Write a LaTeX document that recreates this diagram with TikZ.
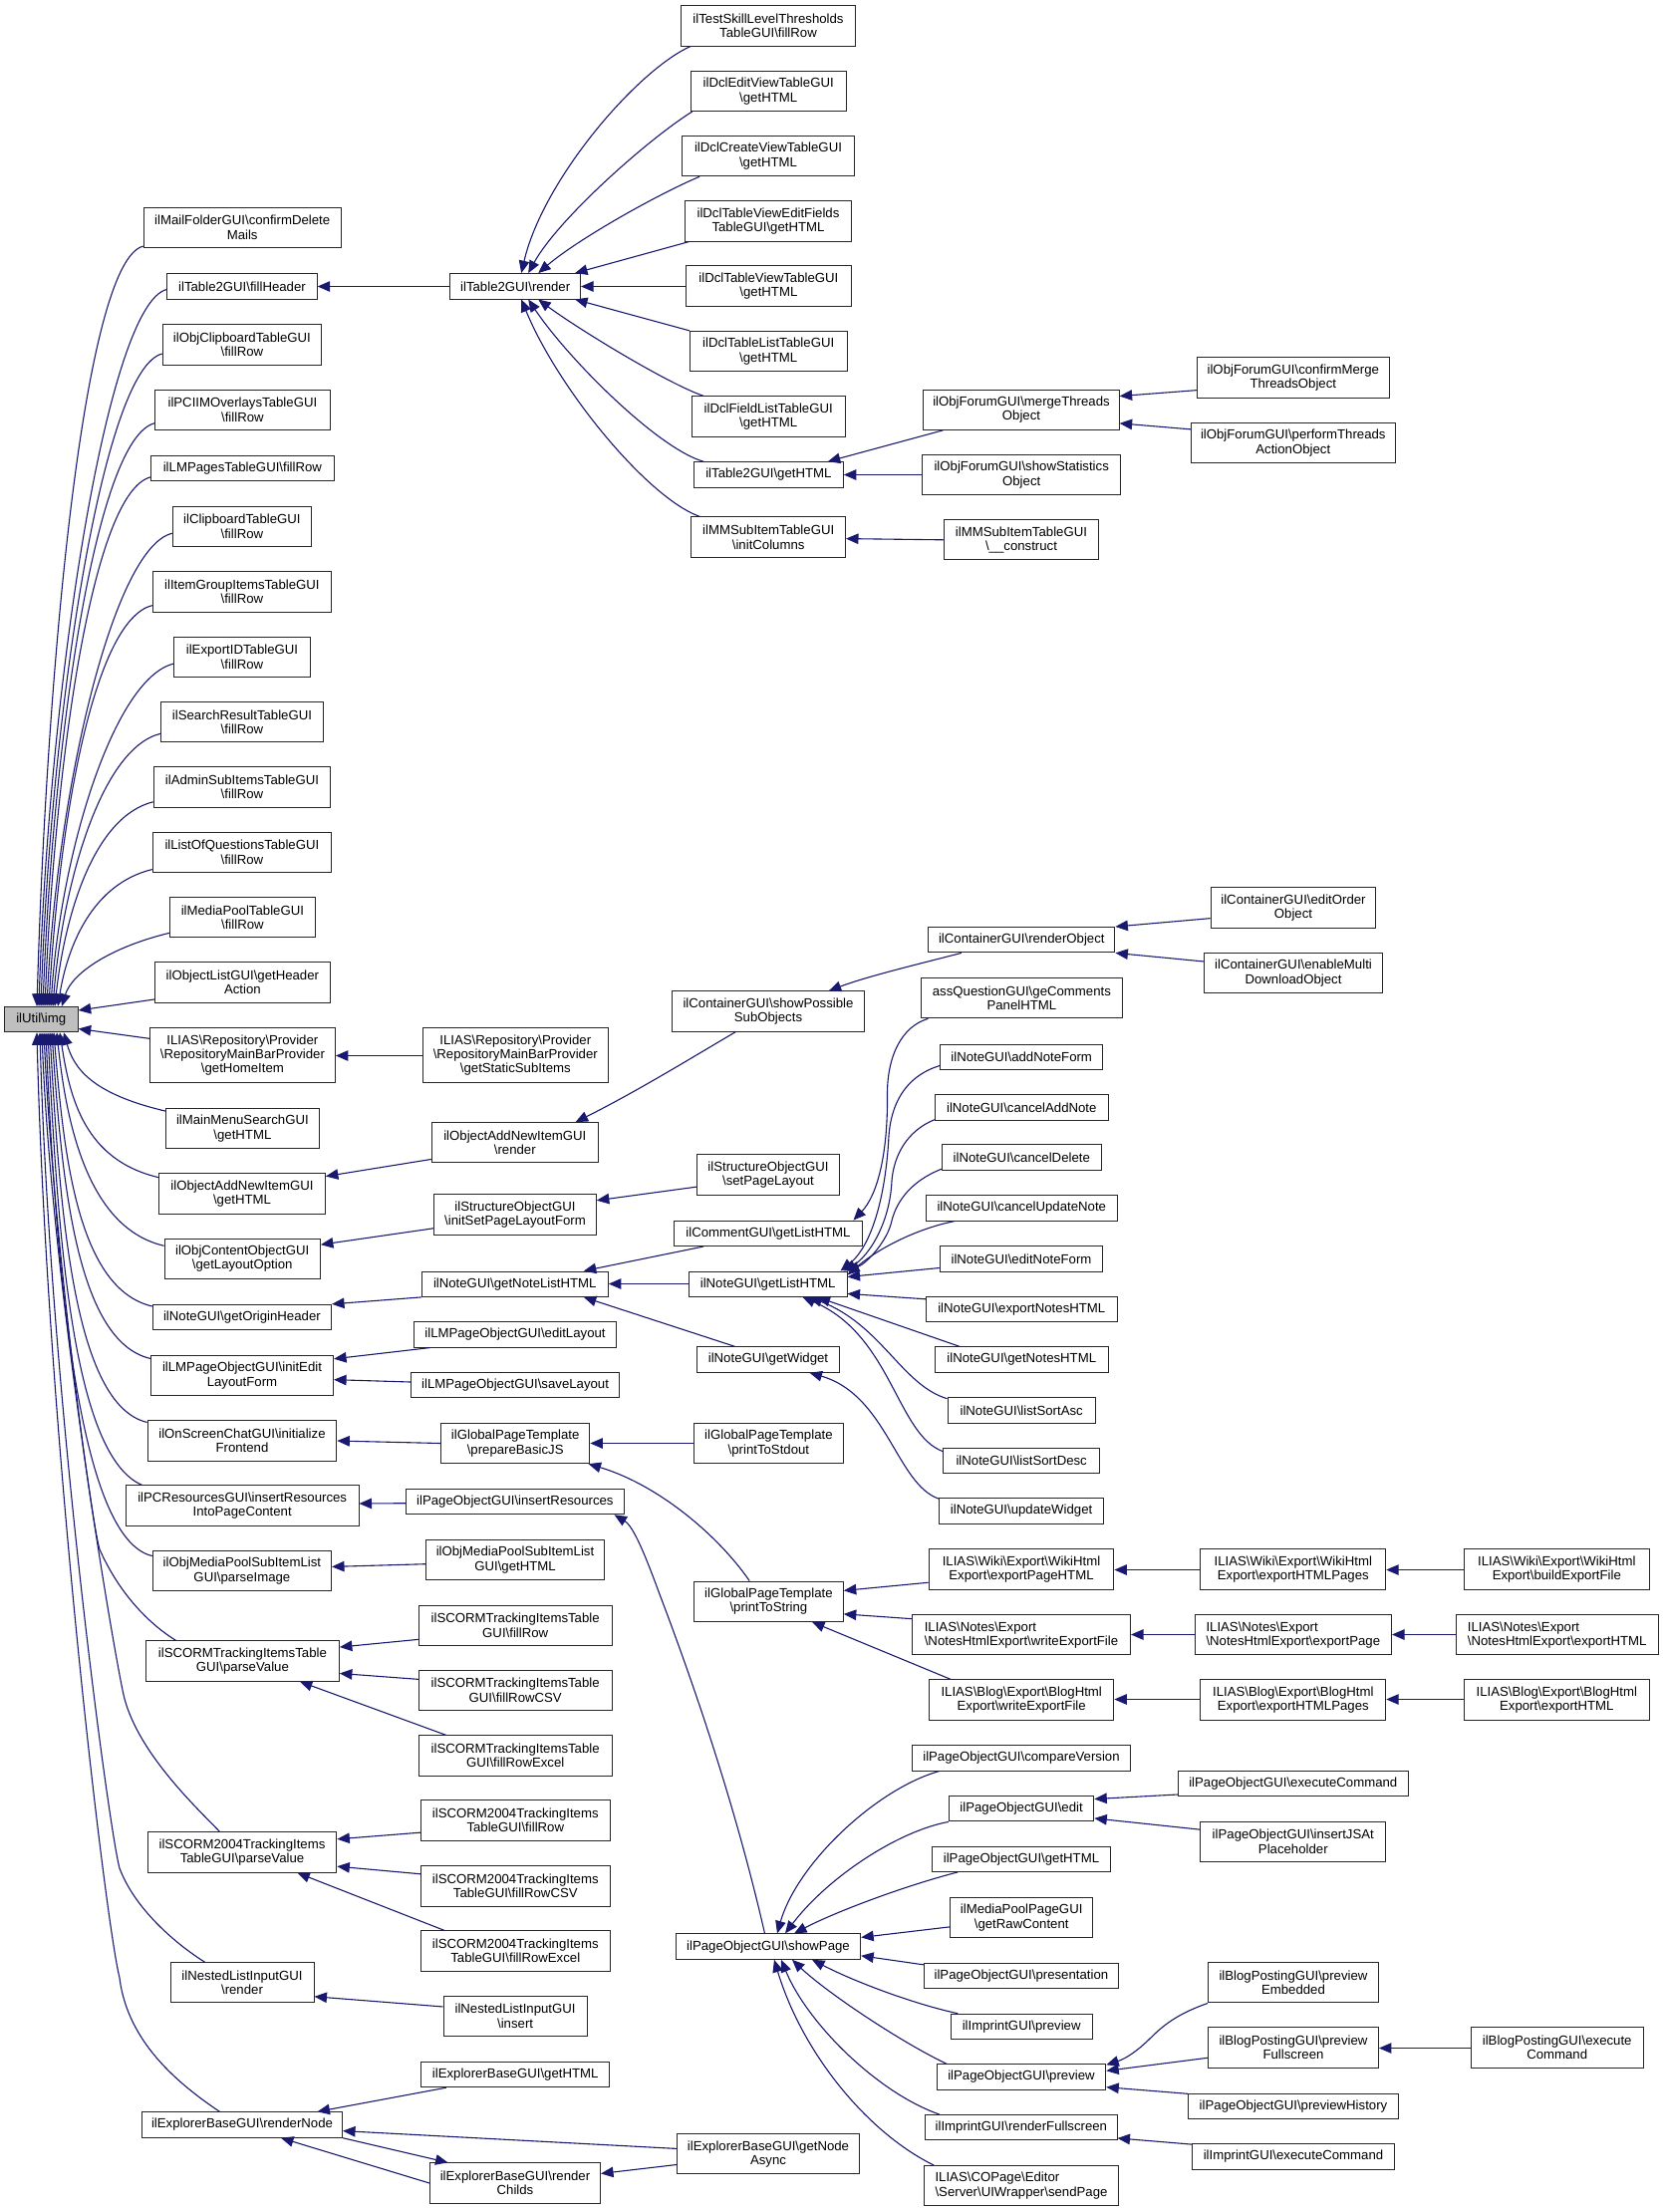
\documentclass[tikz,border=0pt]{standalone}
\usepackage{fontspec}
\setmainfont{Liberation Sans}
\usetikzlibrary{arrows.meta}
\definecolor{edgeblue}{HTML}{191970}
\definecolor{nodegrey}{HTML}{BFBFBF}
\def\bsl{\textbackslash}
\begin{document}
\begin{tikzpicture}[x=1pt,y=-1pt,
  box/.style={draw=black!85, line width=1pt, fill=white, inner sep=0pt, align=center, text=black, font=\fontsize{13.2}{14.4}\selectfont},
  lbox/.style={box, align=left},
  h1/.style={minimum height=25.4pt},
  h2/.style={minimum height=40.3pt},
  h3/.style={minimum height=54.8pt},
  edge/.style={draw=edgeblue, line width=1.1pt, -{Triangle[length=12.5pt,width=10.5pt]}},
]
\useasboundingbox (0,0) rectangle (1669,2220);
\fill[white] (0,0) rectangle (1669,2220);

% ---------- column 0
\node[box, fill=nodegrey, minimum width=73.9pt, minimum height=25.2pt] (utilimg) at (41.25,1023.1) {ilUtil\bsl img};

% ---------- column 1
\node[box,h2,minimum width=197.8pt] (n1) at (243.2,228.2) {ilMailFolderGUI\bsl confirmDelete\\Mails};
\node[box,h1,minimum width=150.3pt] (n2) at (243,287.3) {ilTable2GUI\bsl fillHeader};
\node[box,h2,minimum width=159.3pt] (n3) at (242.9,345.9) {ilObjClipboardTableGUI\\\bsl fillRow};
\node[box,h2,minimum width=175.4pt] (n4) at (243.4,411.2) {ilPCIIMOverlaysTableGUI\\\bsl fillRow};
\node[box,h1,minimum width=183.2pt] (n5) at (243.4,469.9) {ilLMPagesTableGUI\bsl fillRow};
\node[box,h2,minimum width=139.3pt] (n6) at (242.9,528.2) {ilClipboardTableGUI\\\bsl fillRow};
\node[box,h2,minimum width=179.3pt] (n7) at (242.9,594) {ilItemGroupItemsTableGUI\\\bsl fillRow};
\node[box,h2,minimum width=136.8pt] (n8) at (243,659.2) {ilExportIDTableGUI\\\bsl fillRow};
\node[box,h2,minimum width=163.2pt] (n9) at (243,724.6) {ilSearchResultTableGUI\\\bsl fillRow};
\node[box,h2,minimum width=177.5pt] (n10) at (243,789.9) {ilAdminSubItemsTableGUI\\\bsl fillRow};
\node[box,h2,minimum width=179.3pt] (n11) at (242.9,855.2) {ilListOfQuestionsTableGUI\\\bsl fillRow};
\node[box,h2,minimum width=146pt] (n12) at (243.4,920.8) {ilMediaPoolTableGUI\\\bsl fillRow};
\node[box,h2,minimum width=175.3pt] (n13) at (243.4,985.9) {ilObjectListGUI\bsl getHeader\\Action};
\node[box,h3,minimum width=186pt] (n14) at (243.4,1059) {ILIAS\bsl Repository\bsl Provider\\\bsl RepositoryMainBarProvider\\\bsl getHomeItem};
\node[box,h2,minimum width=154pt] (n15) at (243.4,1132.4) {ilMainMenuSearchGUI\\\bsl getHTML};
\node[box,h2,minimum width=166.8pt] (n16) at (243,1197.9) {ilObjectAddNewItemGUI\\\bsl getHTML};
\node[box,h2,minimum width=156.4pt] (n17) at (243.2,1263.2) {ilObjContentObjectGUI\\\bsl getLayoutOption};
\node[box,h1,minimum width=179.3pt] (n18) at (242.9,1322) {ilNoteGUI\bsl getOriginHeader};
\node[box,h2,minimum width=183.2pt] (n19) at (243,1380.4) {ilLMPageObjectGUI\bsl initEdit\\LayoutForm};
\node[box,h2,minimum width=189.7pt] (n20) at (243,1446) {ilOnScreenChatGUI\bsl initialize\\Frontend};
\node[box,h2,minimum width=233.6pt] (n21) at (243.2,1511) {ilPCResourcesGUI\bsl insertResources\\IntoPageContent};
\node[box,h2,minimum width=179.3pt] (n22) at (242.9,1576.6) {ilObjMediaPoolSubItemList\\GUI\bsl parseImage};
\node[box,h2,minimum width=194pt] (n23) at (243.4,1667) {ilSCORMTrackingItemsTable\\GUI\bsl parseValue};
\node[box,h2,minimum width=189.7pt] (n24) at (243,1858.9) {ilSCORM2004TrackingItems\\TableGUI\bsl parseValue};
\node[box,h2,minimum width=144pt] (n25) at (243,1989.8) {ilNestedListInputGUI\\\bsl render};
\node[box,h1,minimum width=201.1pt] (n26) at (243,2132.5) {ilExplorerBaseGUI\bsl renderNode};

% ---------- column 2
\node[box,h1,minimum width=130.7pt] (render) at (517.2,287.3) {ilTable2GUI\bsl render};
\node[box,h3,minimum width=186pt] (staticsub) at (517.3,1059) {ILIAS\bsl Repository\bsl Provider\\\bsl RepositoryMainBarProvider\\\bsl getStaticSubItems};
\node[box,h2,minimum width=167.1pt] (addnewrender) at (516.8,1146.8) {ilObjectAddNewItemGUI\\\bsl render};
\node[box,h2,minimum width=162.7pt] (initsetpage) at (517,1219.1) {ilStructureObjectGUI\\\bsl initSetPageLayoutForm};
\node[box,h1,minimum width=187.1pt] (notelisthtml) at (516.8,1288.7) {ilNoteGUI\bsl getNoteListHTML};
\node[box,h1,minimum width=202.7pt] (editlayout) at (517,1339.4) {ilLMPageObjectGUI\bsl editLayout};
\node[box,h1,minimum width=209.2pt] (savelayout) at (517.1,1389.8) {ilLMPageObjectGUI\bsl saveLayout};
\node[box,h2,minimum width=149.3pt] (preparejs) at (517.2,1448.5) {ilGlobalPageTemplate\\\bsl prepareBasicJS};
\node[box,h1,minimum width=218.7pt] (insertres) at (516.9,1507) {ilPageObjectGUI\bsl insertResources};
\node[box,h2,minimum width=179.1pt] (mpgethtml) at (517,1565.7) {ilObjMediaPoolSubItemList\\GUI\bsl getHTML};
\node[box,h2,minimum width=193.6pt] (scfillrow) at (517.2,1631.2) {ilSCORMTrackingItemsTable\\GUI\bsl fillRow};
\node[box,h2,minimum width=193.6pt] (scfillcsv) at (517.2,1696.4) {ilSCORMTrackingItemsTable\\GUI\bsl fillRowCSV};
\node[box,h2,minimum width=193.6pt] (scfillexcel) at (517.2,1762) {ilSCORMTrackingItemsTable\\GUI\bsl fillRowExcel};
\node[box,h2,minimum width=189.6pt] (sc04fillrow) at (517.3,1827) {ilSCORM2004TrackingItems\\TableGUI\bsl fillRow};
\node[box,h2,minimum width=189.6pt] (sc04csv) at (517.3,1892.9) {ilSCORM2004TrackingItems\\TableGUI\bsl fillRowCSV};
\node[box,h2,minimum width=189.6pt] (sc04excel) at (517.3,1958) {ilSCORM2004TrackingItems\\TableGUI\bsl fillRowExcel};
\node[box,h2,minimum width=144.2pt] (nestedinsert) at (517.1,2023.2) {ilNestedListInputGUI\\\bsl insert};
\node[box,h1,minimum width=188.5pt] (explgethtml) at (517.2,2082) {ilExplorerBaseGUI\bsl getHTML};
\node[box,h2,minimum width=171.1pt] (renderchilds) at (517,2191) {ilExplorerBaseGUI\bsl render\\Childs};

% ---------- column 3
\node[box,h2,minimum width=175pt] (testskill) at (771,25.9) {ilTestSkillLevelThresholds\\TableGUI\bsl fillRow};
\node[box,h2,minimum width=156.1pt] (dcledit) at (771.2,91.4) {ilDclEditViewTableGUI\\\bsl getHTML};
\node[box,h2,minimum width=172.8pt] (dclcreate) at (771,156.6) {ilDclCreateViewTableGUI\\\bsl getHTML};
\node[box,h2,minimum width=167.6pt] (dcltvef) at (771,222) {ilDclTableViewEditFields\\TableGUI\bsl getHTML};
\node[box,h2,minimum width=166.1pt] (dcltvt) at (771.4,287) {ilDclTableViewTableGUI\\\bsl getHTML};
\node[box,h2,minimum width=157.6pt] (dcltl) at (771.2,352.5) {ilDclTableListTableGUI\\\bsl getHTML};
\node[box,h2,minimum width=153.8pt] (dclfl) at (771.2,417.9) {ilDclFieldListTableGUI\\\bsl getHTML};
\node[box,h1,minimum width=149.8pt] (t2gethtml) at (771.4,476.4) {ilTable2GUI\bsl getHTML};
\node[box,h2,minimum width=154.6pt] (initcolumns) at (771.2,539.1) {ilMMSubItemTableGUI\\\bsl initColumns};
\node[box,h2,minimum width=193.4pt] (showpossible) at (771,1015.1) {ilContainerGUI\bsl showPossible\\SubObjects};
\node[box,h2,minimum width=143.2pt] (setpagelayout) at (771,1179) {ilStructureObjectGUI\\\bsl setPageLayout};
\node[box,h1,minimum width=188.2pt] (commentlist) at (771,1237.8) {ilCommentGUI\bsl getListHTML};
\node[box,h1,minimum width=158.7pt] (notegetlist) at (770.7,1288.7) {ilNoteGUI\bsl getListHTML};
\node[box,h1,minimum width=143.2pt] (getwidget) at (771,1364.5) {ilNoteGUI\bsl getWidget};
\node[box,h2,minimum width=149.8pt] (printstdout) at (771.4,1448.5) {ilGlobalPageTemplate\\\bsl printToStdout};
\node[box,h2,minimum width=149.8pt] (printstring) at (771.4,1607.2) {ilGlobalPageTemplate\\\bsl printToString};
\node[box,h1,minimum width=185.4pt] (showpage) at (771,1953.6) {ilPageObjectGUI\bsl showPage};
\node[box,h2,minimum width=183.1pt] (nodeasync) at (771,2161.8) {ilExplorerBaseGUI\bsl getNode\\Async};

% ---------- column 4
\node[box,h2,minimum width=196.3pt] (mergethreads) at (1025,411.2) {ilObjForumGUI\bsl mergeThreads\\Object};
\node[box,h2,minimum width=198.9pt] (showstats) at (1025.2,476.4) {ilObjForumGUI\bsl showStatistics\\Object};
\node[box,h2,minimum width=155.3pt] (construct) at (1025,541.8) {ilMMSubItemTableGUI\\\bsl \_\_construct};
\node[box,h1,minimum width=187.2pt] (renderobject) at (1025.3,943.2) {ilContainerGUI\bsl renderObject};
\node[box,h2,minimum width=201.4pt] (assq) at (1025.4,1001.7) {assQuestionGUI\bsl geComments\\PanelHTML};
\node[box,h1,minimum width=163.1pt] (addnoteform) at (1025.2,1060.7) {ilNoteGUI\bsl addNoteForm};
\node[box,h1,minimum width=173.8pt] (canceladd) at (1025.3,1111.5) {ilNoteGUI\bsl cancelAddNote};
\node[box,h1,minimum width=159.8pt] (canceldelete) at (1025.3,1161.5) {ilNoteGUI\bsl cancelDelete};
\node[box,h1,minimum width=192.3pt] (cancelupdate) at (1025.3,1212.5) {ilNoteGUI\bsl cancelUpdateNote};
\node[box,h1,minimum width=163.5pt] (editnoteform) at (1025,1263.3) {ilNoteGUI\bsl editNoteForm};
\node[box,h1,minimum width=191.5pt] (exportnotes) at (1025.3,1314) {ilNoteGUI\bsl exportNotesHTML};
\node[box,h1,minimum width=173.8pt] (getnoteshtml) at (1025.3,1364.5) {ilNoteGUI\bsl getNotesHTML};
\node[box,h1,minimum width=148.3pt] (sortasc) at (1025.2,1415.4) {ilNoteGUI\bsl listSortAsc};
\node[box,h1,minimum width=156.5pt] (sortdesc) at (1025.2,1465.9) {ilNoteGUI\bsl listSortDesc};
\node[box,h1,minimum width=164.6pt] (updatewidget) at (1025.1,1516.4) {ilNoteGUI\bsl updateWidget};
\node[box,h2,minimum width=185.7pt] (wikipagehtml) at (1025,1575) {ILIAS\bsl Wiki\bsl Export\bsl WikiHtml\\Export\bsl exportPageHTML};
\node[lbox,h2,minimum width=219pt] (noteswrite) at (1025,1640.8) {ILIAS\bsl Notes\bsl Export\\\bsl NotesHtmlExport\bsl writeExportFile};
\node[box,h2,minimum width=185.3pt] (blogwrite) at (1025.2,1705.9) {ILIAS\bsl Blog\bsl Export\bsl BlogHtml\\Export\bsl writeExportFile};
\node[box,h1,minimum width=219pt] (compareversion) at (1025,1764.3) {ilPageObjectGUI\bsl compareVersion};
\node[box,h1,minimum width=145.4pt] (pogedit) at (1025.1,1815.2) {ilPageObjectGUI\bsl edit};
\node[box,h1,minimum width=179.1pt] (poggethtml) at (1025,1865.7) {ilPageObjectGUI\bsl getHTML};
\node[box,h2,minimum width=143.1pt] (rawcontent) at (1025.2,1924.6) {ilMediaPoolPageGUI\\\bsl getRawContent};
\node[box,h1,minimum width=195.2pt] (presentation) at (1024.9,1983) {ilPageObjectGUI\bsl presentation};
\node[box,h1,minimum width=141.7pt] (imprintpreview) at (1025.2,2033.9) {ilImprintGUI\bsl preview};
\node[box,h1,minimum width=169.5pt] (pogpreview) at (1025,2084.5) {ilPageObjectGUI\bsl preview};
\node[box,h1,minimum width=192.2pt] (renderfull) at (1024.9,2135.2) {ilImprintGUI\bsl renderFullscreen};
\node[lbox,h2,minimum width=194.1pt] (sendpage) at (1025,2193.6) {ILIAS\bsl COPage\bsl Editor\\\bsl Server\bsl UIWrapper\bsl sendPage};

% ---------- column 5
\node[box,h2,minimum width=193.1pt] (confirmmerge) at (1297.8,379) {ilObjForumGUI\bsl confirmMerge\\ThreadsObject};
\node[box,h2,minimum width=204.7pt] (performthreads) at (1297.8,444.5) {ilObjForumGUI\bsl performThreads\\ActionObject};
\node[box,h2,minimum width=165.9pt] (editorder) at (1298,911) {ilContainerGUI\bsl editOrder\\Object};
\node[box,h2,minimum width=178.9pt] (enablemulti) at (1298,976.6) {ilContainerGUI\bsl enableMulti\\DownloadObject};
\node[box,h2,minimum width=185.8pt] (wikihtmlpages) at (1297.8,1575) {ILIAS\bsl Wiki\bsl Export\bsl WikiHtml\\Export\bsl exportHTMLPages};
\node[lbox,h2,minimum width=197.4pt] (notesexportpage) at (1297.8,1640.8) {ILIAS\bsl Notes\bsl Export\\\bsl NotesHtmlExport\bsl exportPage};
\node[box,h2,minimum width=185.8pt] (bloghtmlpages) at (1297.8,1705.9) {ILIAS\bsl Blog\bsl Export\bsl BlogHtml\\Export\bsl exportHTMLPages};
\node[box,h1,minimum width=230.8pt] (pogexec) at (1297.8,1789.8) {ilPageObjectGUI\bsl executeCommand};
\node[box,h2,minimum width=185.8pt] (insertjs) at (1297.8,1848.2) {ilPageObjectGUI\bsl insertJSAt\\Placeholder};
\node[box,h2,minimum width=170.9pt] (prevembedded) at (1298,1989.8) {ilBlogPostingGUI\bsl preview\\Embedded};
\node[box,h2,minimum width=170.9pt] (prevfull) at (1298,2055) {ilBlogPostingGUI\bsl preview\\Fullscreen};
\node[box,h1,minimum width=210.9pt] (prevhistory) at (1298,2113.9) {ilPageObjectGUI\bsl previewHistory};
\node[box,h1,minimum width=202.9pt] (imprintexec) at (1298,2164.3) {ilImprintGUI\bsl executeCommand};

% ---------- column 6
\node[box,h2,minimum width=185.8pt] (wikibuild) at (1562.3,1575) {ILIAS\bsl Wiki\bsl Export\bsl WikiHtml\\Export\bsl buildExportFile};
\node[lbox,h2,minimum width=203.2pt] (notesexporthtml) at (1562.7,1640.8) {ILIAS\bsl Notes\bsl Export\\\bsl NotesHtmlExport\bsl exportHTML};
\node[box,h2,minimum width=185.8pt] (blogexporthtml) at (1562.3,1705.9) {ILIAS\bsl Blog\bsl Export\bsl BlogHtml\\Export\bsl exportHTML};
\node[box,h2,minimum width=172.7pt] (blogexec) at (1562.7,2055) {ilBlogPostingGUI\bsl execute\\Command};

% ================= edges into ilUtil\img (top group)
\draw[edge] ([shift={(0,-1.8)}]n1.south west) .. controls (84.3,261.4) and (47,666.7) .. ([shift={(-4.25,0)}]utilimg.north);
\draw[edge] ([shift={(0,-10)}]n2.south west) .. controls (107.9,305) and (49,686.3) .. ([shift={(-2.25,0)}]utilimg.north);
\draw[edge] ([shift={(0,-11.5)}]n3.south west) .. controls (103.2,369.6) and (51,715.3) .. ([shift={(-0.25,0)}]utilimg.north);
\draw[edge] ([shift={(0,-7.1)}]n4.south west) .. controls (95.7,439.3) and (53,746.7) .. ([shift={(1.75,0)}]utilimg.north);
\draw[edge] ([shift={(0,-4.3)}]n5.south west) .. controls (91.8,493.6) and (55,771.1) .. ([shift={(3.75,0)}]utilimg.north);
\draw[edge] ([shift={(0,-13.6)}]n6.south west) .. controls (113.2,549.6) and (57,796.3) .. ([shift={(5.75,0)}]utilimg.north);
\draw[edge] ([shift={(0,-7)}]n7.south west) .. controls (93.2,622.3) and (59,829.1) .. ([shift={(7.75,0)}]utilimg.north);
\draw[edge] ([shift={(0,-13.7)}]n8.south west) .. controls (114.6,680.8) and (61,855.4) .. ([shift={(9.75,0)}]utilimg.north);
\draw[edge] ([shift={(0,-8.9)}]n9.south west) .. controls (101.4,751) and (63,887) .. ([shift={(11.75,0)}]utilimg.north);
\draw[edge] ([shift={(0,-5.8)}]n10.south west) .. controls (94.3,819.5) and (65,917.8) .. ([shift={(13.75,0)}]utilimg.north);
\draw[edge] ([shift={(0,-3.3)}]n11.south west) .. controls (93.2,887) and (68,948.2) .. ([shift={(16.75,0)}]utilimg.north);
\draw[edge] ([shift={(0,-5.1)}]n12.south west) .. controls (110.4,950.8) and (72,976.9) .. ([shift={(20.75,0)}]utilimg.north);
\draw[edge] ([shift={(0,-3.6)}]n13.south west) -- ([shift={(0,4)}]utilimg.north east);
\draw[edge] ([shift={(0,-16.7)}]n14.west) -- ([shift={(0,-3.7)}]utilimg.south east);

% ================= edges into ilUtil\img (bottom group)
\draw[edge] ([shift={(0,3.3)}]n15.north west) .. controls (91.4,1097.5) and (74,1071.6) .. ([shift={(22.75,0)}]utilimg.south);
\draw[edge] ([shift={(0,4.4)}]n16.north west) .. controls (84.6,1164.1) and (70,1101.6) .. ([shift={(18.75,0)}]utilimg.south);
\draw[edge] ([shift={(0,7.7)}]n17.north west) .. controls (90,1232.9) and (67,1132.5) .. ([shift={(15.75,0)}]utilimg.south);
\draw[edge] ([shift={(0,2.2)}]n18.north west) .. controls (78.2,1293.6) and (64,1159.9) .. ([shift={(12.75,0)}]utilimg.south);
\draw[edge] ([shift={(0,3.7)}]n19.north west) .. controls (76.4,1346.1) and (62,1183.5) .. ([shift={(10.75,0)}]utilimg.south);
\draw[edge] ([shift={(0,2.1)}]n20.north west) .. controls (73.2,1410) and (60,1212.2) .. ([shift={(8.75,0)}]utilimg.south);
\draw[edge] ([shift={(16.6,0)}]n21.north west) .. controls (73,1461) and (58,1240.6) .. ([shift={(6.75,0)}]utilimg.south);
\draw[edge] ([shift={(0,5.6)}]n22.north west) .. controls (78.2,1544.4) and (56,1272.7) .. ([shift={(4.75,0)}]utilimg.south);
\draw[edge] ([shift={(30.6,0)}]n23.north west) .. controls (150,1630) and (120,1600) .. (100,1555) .. controls (92,1530) and (54,1250) .. ([shift={(2.75,0)}]utilimg.south);
\draw[edge] ([shift={(72.8,0)}]n24.north west) .. controls (195,1812) and (140,1760) .. (125,1705) .. controls (118,1680) and (52,1300) .. ([shift={(0.75,0)}]utilimg.south);
\draw[edge] ([shift={(35,0)}]n25.north west) .. controls (175,1950) and (135,1915) .. (120,1875) .. controls (110,1840) and (50,1400) .. ([shift={(-1.25,0)}]utilimg.south);
\draw[edge] ([shift={(78.5,0)}]n26.north west) .. controls (180,2092) and (128,2050) .. (120,1985) .. controls (106,1930) and (47,1436) .. ([shift={(-4.25,0)}]utilimg.south);

% ================= table2 render cluster
\draw[edge] ([shift={(0,0.2)}]render.west) -- ([shift={(0,0.2)}]n2.east);
\draw[edge] ([shift={(10,0)}]testskill.south west) .. controls (640,70) and (545,180) .. ([shift={(6,0)}]render.north);
\draw[edge] ([shift={(2,0)}]dcledit.south west) .. controls (650,140) and (560,220) .. ([shift={(13,0)}]render.north);
\draw[edge] ([shift={(18,0)}]dclcreate.south west) .. controls (660,195) and (580,240) .. ([shift={(23,0)}]render.north);
\draw[edge] ([shift={(4.5,0)}]dcltvef.south west) -- ([shift={(-6,0)}]render.north east);
\draw[edge] ([shift={(0,0.5)}]dcltvt.west) -- ([shift={(0,0.2)}]render.east);
\draw[edge] (dcltl.north west) -- ([shift={(-6,0)}]render.south east);
\draw[edge] ([shift={(12,0)}]dclfl.north west) .. controls (670,385) and (580,330) .. ([shift={(23,0)}]render.south);
\draw[edge] ([shift={(10,0)}]t2gethtml.north west) .. controls (660,450) and (570,360) .. ([shift={(13,0)}]render.south);
\draw[edge] ([shift={(9,0)}]initcolumns.north west) .. controls (650,500) and (560,390) .. ([shift={(6,0)}]render.south);
\draw[edge] ([shift={(20,0)}]mergethreads.south west) -- ([shift={(-16,0)}]t2gethtml.north east);
\draw[edge] ([shift={(0,0.1)}]showstats.west) -- ([shift={(0,0.1)}]t2gethtml.east);
\draw[edge] ([shift={(0,-8)}]confirmmerge.south west) -- ([shift={(0,7)}]mergethreads.north east);
\draw[edge] ([shift={(0,7)}]performthreads.north west) -- ([shift={(0,-7)}]mergethreads.south east);
\draw[edge] (construct.west) -- ([shift={(0,1.5)}]initcolumns.east);

% ================= repository / container
\draw[edge] ([shift={(0,0.5)}]staticsub.west) -- ([shift={(0,0.5)}]n14.east);
\draw[edge] ([shift={(0,-4)}]addnewrender.south west) -- ([shift={(0,3.3)}]n16.north east);
\draw[edge] ([shift={(64.3,0)}]showpossible.south west) .. controls (700,1058) and (640,1095) .. ([shift={(-23.3,0)}]addnewrender.north east);
\draw[edge] ([shift={(33.7,0)}]renderobject.south west) .. controls (920,968) and (870,980) .. ([shift={(157.9,0)}]showpossible.north west);
\draw[edge] ([shift={(0,-10)}]editorder.south west) -- (renderobject.north east);
\draw[edge] ([shift={(0,9)}]enablemulti.north west) -- (renderobject.south east);
\draw[edge] ([shift={(0,-7)}]initsetpage.south west) -- ([shift={(0,6.6)}]n17.north east);
\draw[edge] ([shift={(0,-8.5)}]setpagelayout.south west) -- ([shift={(0,6.3)}]initsetpage.north east);

% ================= notes
\draw[edge] (notelisthtml.south west) -- (n18.north east);
\draw[edge] ([shift={(29.6,0)}]commentlist.south west) -- ([shift={(-25,0)}]notelisthtml.north east);
\draw[edge] ([shift={(0,-0.2)}]notegetlist.west) -- ([shift={(0,-0.2)}]notelisthtml.east);
\draw[edge] ([shift={(38.5,0)}]getwidget.north west) -- ([shift={(-25,0)}]notelisthtml.south east);
\draw[edge] ([shift={(7.3,0)}]assq.south west) .. controls (905,1030) and (890,1060) .. (890.5,1100) .. controls (891,1160) and (880,1200) .. ([shift={(-9.1,0)}]commentlist.north east);
\draw[edge] ([shift={(0,-4.4)}]addnoteform.south west) .. controls (915,1078) and (895,1100) .. (892,1140) .. controls (889,1200) and (875,1250) .. ([shift={(-7,0)}]notegetlist.north east);
\draw[edge] ([shift={(0,-1)}]canceladd.south west) .. controls (910,1135) and (897,1160) .. (895,1185) .. controls (893,1230) and (870,1262) .. ([shift={(-4,0)}]notegetlist.north east);
\draw[edge] ([shift={(0,-1.5)}]canceldelete.south west) .. controls (915,1185) and (900,1205) .. (895,1225) .. controls (891,1245) and (870,1268) .. ([shift={(-1,0)}]notegetlist.north east);
\draw[edge] ([shift={(28.9,0)}]cancelupdate.south west) .. controls (925,1232) and (885,1250) .. ([shift={(0,4)}]notegetlist.north east);
\draw[edge] ([shift={(0,-4)}]editnoteform.south west) -- ([shift={(0,6)}]notegetlist.north east);
\draw[edge] ([shift={(0,3)}]exportnotes.north west) -- ([shift={(0,-3.5)}]notegetlist.south east);
\draw[edge] ([shift={(25,0)}]getnoteshtml.north west) -- ([shift={(-30,0)}]notegetlist.south east);
\draw[edge] ([shift={(0,1.5)}]sortasc.north west) .. controls (905,1390) and (885,1330) .. ([shift={(-38,0)}]notegetlist.south east);
\draw[edge] ([shift={(0,4)}]sortdesc.north west) .. controls (900,1440) and (895,1340) .. ([shift={(-45,0)}]notegetlist.south east);
\draw[edge] ([shift={(0,1)}]updatewidget.north west) .. controls (900,1490) and (890,1400) .. ([shift={(-30.6,0)}]getwidget.south east);

% ================= layout / templates / export
\draw[edge] ([shift={(16.3,0)}]editlayout.south west) -- ([shift={(0,4)}]n19.north east);
\draw[edge] ([shift={(0,-16)}]savelayout.south west) -- ([shift={(0,-16.4)}]n19.south east);
\draw[edge] (preparejs.west) -- (n20.east);
\draw[edge] (printstdout.west) -- (preparejs.east);
\draw[edge] ([shift={(56.2,0)}]printstring.north west) .. controls (720,1540) and (660,1490) .. ([shift={(-1.8,0)}]preparejs.south east);
\draw[edge] ([shift={(0,-7.4)}]wikipagehtml.south west) -- ([shift={(0,9.8)}]printstring.north east);
\draw[edge] ([shift={(0,4.5)}]noteswrite.north west) -- ([shift={(0,-8)}]printstring.south east);
\draw[edge] ([shift={(21.8,0)}]blogwrite.north west) -- ([shift={(43.6,0)}]printstring.south);
\draw[edge] ([shift={(0,0.5)}]wikihtmlpages.west) -- ([shift={(0,0.5)}]wikipagehtml.east);
\draw[edge] ([shift={(0,0.5)}]wikibuild.west) -- ([shift={(0,0.5)}]wikihtmlpages.east);
\draw[edge] ([shift={(0,-0.3)}]notesexportpage.west) -- ([shift={(0,-0.3)}]noteswrite.east);
\draw[edge] ([shift={(0,-0.3)}]notesexporthtml.west) -- ([shift={(0,-0.3)}]notesexportpage.east);
\draw[edge] ([shift={(0,-0.4)}]bloghtmlpages.west) -- ([shift={(0,-0.4)}]blogwrite.east);
\draw[edge] ([shift={(0,-0.4)}]blogexporthtml.west) -- ([shift={(0,-0.4)}]bloghtmlpages.east);

% ================= page object
\draw[edge] ([shift={(0,1.7)}]insertres.west) -- ([shift={(0,-2)}]n21.east);
\draw[edge] ([shift={(-3.5,0)}]showpage.north) .. controls (740,1820) and (700,1700) .. (662,1600) .. controls (648,1562) and (636,1532) .. ([shift={(-10.2,0)}]insertres.south east);
\draw[edge] ([shift={(27.7,0)}]compareversion.south west) .. controls (880,1795) and (800,1870) .. ([shift={(9,0)}]showpage.north);
\draw[edge] (pogedit.south west) .. controls (900,1838) and (830,1885) .. ([shift={(17,0)}]showpage.north);
\draw[edge] ([shift={(26.3,0)}]poggethtml.south west) .. controls (910,1892) and (840,1918) .. ([shift={(26,0)}]showpage.north);
\draw[edge] ([shift={(0,-11.4)}]rawcontent.south west) -- ([shift={(0,4)}]showpage.north east);
\draw[edge] ([shift={(0,2)}]presentation.north west) -- ([shift={(0,-4)}]showpage.south east);
\draw[edge] ([shift={(7.4,0)}]imprintpreview.north west) .. controls (920,2012) and (860,1990) .. ([shift={(44,0)}]showpage.south);
\draw[edge] ([shift={(10.4,0)}]pogpreview.north west) .. controls (905,2050) and (830,2000) .. ([shift={(24,0)}]showpage.south);
\draw[edge] ([shift={(14.4,0)}]renderfull.north west) .. controls (880,2100) and (810,2030) .. ([shift={(13,0)}]showpage.south);
\draw[edge] ([shift={(9.6,0)}]sendpage.north west) .. controls (870,2140) and (805,2060) .. ([shift={(6,0)}]showpage.south);
\draw[edge] ([shift={(0,-2)}]pogexec.south west) -- ([shift={(0,3.5)}]pogedit.north east);
\draw[edge] ([shift={(0,8.6)}]insertjs.north west) -- ([shift={(0,-3.5)}]pogedit.south east);
\draw[edge] (prevembedded.south west) .. controls (1185,2020) and (1170,2030) .. (1155,2045) .. controls (1142,2058) and (1130,2066) .. ([shift={(0,1)}]pogpreview.north east);
\draw[edge] ([shift={(0,-10.4)}]prevfull.south west) -- ([shift={(0,7)}]pogpreview.north east);
\draw[edge] ([shift={(0,0.6)}]prevhistory.north west) -- ([shift={(0,-3)}]pogpreview.south east);
\draw[edge] ([shift={(0,0.5)}]blogexec.west) -- ([shift={(0,0.5)}]prevfull.east);
\draw[edge] ([shift={(0,1)}]imprintexec.north west) -- ([shift={(0,-2.5)}]renderfull.south east);

% ================= media pool / scorm / nested / explorer
\draw[edge] ([shift={(0,4)}]mpgethtml.west) -- ([shift={(0,-4.2)}]n22.east);
\draw[edge] ([shift={(0,-6.5)}]scfillrow.south west) -- ([shift={(0,6.7)}]n23.north east);
\draw[edge] ([shift={(0,9.6)}]scfillcsv.north west) -- ([shift={(0,-8.2)}]n23.south east);
\draw[edge] ([shift={(27.8,0)}]scfillexcel.north west) -- ([shift={(-40,0)}]n23.south east);
\draw[edge] ([shift={(0,-8.5)}]sc04fillrow.south west) -- ([shift={(0,7.5)}]n24.north east);
\draw[edge] ([shift={(0,8.5)}]sc04csv.north west) -- ([shift={(0,-6.4)}]n24.south east);
\draw[edge] ([shift={(23.9,0)}]sc04excel.north west) -- ([shift={(-40,0)}]n24.south east);
\draw[edge] ([shift={(0,11.4)}]nestedinsert.north west) -- ([shift={(0,-6.7)}]n25.south east);
\draw[edge] ([shift={(25.3,0)}]explgethtml.south west) -- ([shift={(-25.6,0)}]n26.north east);
\draw[edge] ([shift={(0,-5.4)}]nodeasync.west) -- ([shift={(0,6.1)}]n26.east);
\draw[edge] (renderchilds.west) -- ([shift={(39,0)}]n26.south);
\draw[edge] (n26.south east) -- ([shift={(18.6,0)}]renderchilds.north west);
\draw[edge] ([shift={(0,10.7)}]nodeasync.west) -- ([shift={(0,-9.6)}]renderchilds.east);
\end{tikzpicture}
\end{document}
